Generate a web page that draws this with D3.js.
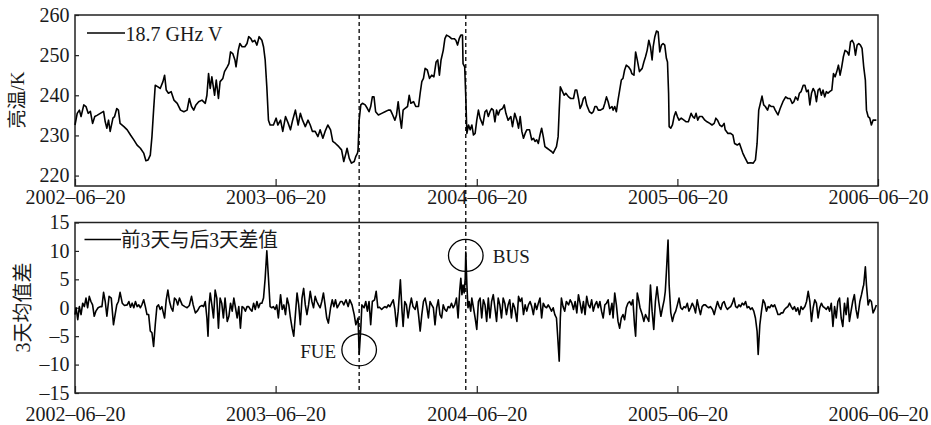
<!DOCTYPE html>
<html>
<head>
<meta charset="utf-8">
<script src="https://cdn.jsdelivr.net/npm/d3@7/dist/d3.min.js"></script>
<style>
  html, body { margin: 0; padding: 0; background: #fff; }
  svg { display: block; }
</style>
</head>
<body>
<svg id="chart" width="931" height="425"></svg>
<script>
// ---------------- DATA ----------------
const startDate = "2002-06-20";
const xTickLabels = ["2002-06-20", "2003-06-20", "2004-06-20", "2005-06-20", "2006-06-20"];
const tbTicks = [220, 230, 240, 250, 260];
const diffTicks = [-15, -10, -5, 0, 5, 10, 15];
const tbLegend = "18.7 GHz V";
const diffLegend = "前3天与后3天差值";
const tbAxisTitle = "亮温/K";
const diffAxisTitle = "3天均值差";

// days after 2002-06-20, brightness temperature (K)
const tbDays = [0,4,8,11,16,20,24,28,32,36,40,46,52,55,58,61,64,69,72,76,79,82,89,95,101,107,113,119,125,129,133,137,140,143,146,151,155,160,163,166,170,175,180,186,192,198,204,208,212,216,220,225,231,237,240,243,246,249,254,257,261,264,269,272,277,280,283,287,291,293,297,300,304,309,313,316,320,323,327,331,335,340,343,346,349,352,355,361,366,369,374,378,383,388,392,396,401,406,410,414,419,424,428,432,437,442,446,451,455,460,465,469,474,480,485,489,493,495,499,503,508,511,514,515,517,520,523,528,532,535,538,541,544,547,552,558,564,570,574,578,582,585,588,591,594,597,600,605,608,611,616,620,625,628,631,634,637,641,645,649,653,657,660,663,666,670,673,676,681,685,690,693,696,699,702,705,706,709,711,713,716,719,722,725,728,731,734,737,742,746,749,752,755,758,761,764,767,770,773,778,781,784,788,793,796,800,804,807,810,813,816,819,822,827,831,834,837,840,843,846,849,852,855,859,863,867,870,873,876,879,881,883,887,890,893,898,902,907,910,913,916,919,922,925,928,931,936,940,943,946,949,952,956,961,964,967,970,973,977,979,982,985,988,991,994,997,1000,1003,1007,1011,1013,1017,1020,1023,1027,1032,1035,1038,1041,1044,1047,1050,1052,1055,1058,1061,1064,1067,1070,1073,1076,1078,1080,1081,1084,1087,1090,1093,1096,1099,1103,1108,1112,1116,1121,1124,1127,1130,1133,1136,1141,1146,1150,1155,1159,1163,1166,1169,1173,1177,1181,1183,1188,1193,1197,1200,1205,1209,1212,1215,1218,1221,1224,1229,1234,1238,1241,1244,1247,1250,1253,1256,1260,1263,1267,1271,1274,1279,1283,1288,1293,1297,1301,1305,1308,1311,1315,1318,1321,1325,1328,1331,1334,1337,1340,1343,1346,1349,1352,1355,1358,1361,1364,1367,1370,1373,1377,1380,1383,1386,1389,1392,1395,1398,1401,1405,1408,1411,1414,1417,1420,1423,1426,1429,1432,1435,1438,1440,1443,1446,1449,1452,1455,1458];
const tbValues = [232.6,235.5,236.3,234.7,237.6,237.2,235.5,236,233,234.7,235,235.5,236,233.4,231.8,233.8,231,234.3,234.7,236.7,236.3,233,232.2,231.4,230.1,228.9,227.6,226.8,225.6,223.7,223.9,225.1,229.7,236.3,242.5,242.1,241.7,243.4,245,241.3,240.5,240.9,238.8,238,236.3,235.9,236.3,239.2,237.2,236.3,237.6,238.4,238.8,238,240,245.4,241.7,244.6,240,243.8,239.2,243.4,244.2,245.9,247.1,247.9,250.8,250.4,248.8,247.1,251.2,252.9,252.1,252.1,252.9,254.6,254.1,253.3,253.7,252.5,254.6,253.7,252.1,248.8,242.1,233.8,232.6,232.6,234.3,232.6,233.8,231,234.7,233,231.4,233.8,236.3,232.6,235.5,233.8,232.2,233.8,232.6,231,231,229.7,231.4,229.3,231,232.6,231.4,228.5,228,227.2,226.4,223.5,225.6,226.8,224.3,223.1,223.5,224.8,225.6,226.4,233.8,237.6,238,237.6,236.7,235.9,237.2,239.6,239.6,235.9,235.1,235.5,235.9,236.3,236.3,235.1,233.8,235.1,238.4,234.7,231.8,236.3,236.7,237.2,240,238,238.4,237.2,237.2,240.5,243.4,244.2,246.7,246.3,244.2,245,244.6,248.3,248.8,245,248.8,251.2,254.1,255,254.6,254.1,254.1,253.7,252.5,254.1,255,255,247.9,247.1,239.6,230.5,232.6,231.4,232.6,230.1,230.5,233.8,236.3,234.3,232.6,235.9,236.3,234.7,235.9,236.7,236.3,233.4,236.3,235.1,236.3,236.7,237.6,235.5,233.8,234.7,232.2,235.5,233.8,231.8,234.7,231,229.3,230.5,231.4,231.4,228.9,229.3,228.5,228.9,228,230.1,231.8,229.7,227.2,226.8,226.4,226,225.6,226.4,227.2,229.7,236.3,242.1,240.9,240,240.5,239.6,239.2,239.2,241.3,241.3,239.2,236.7,237.6,239.2,239.6,237.6,235.9,235.5,235.9,237.2,237.2,236.3,236.3,236.7,238,239.6,238.4,236.7,237.2,236.3,237.2,235.9,238.8,241.3,243.8,244.2,246.3,247.5,247.1,246.3,245.4,245,250.8,248.8,245.9,246.7,248.3,249.6,251.2,253.7,252.1,248.8,252.1,254.6,256,255.8,250.8,252.5,252.9,252.5,249.2,248.3,240.5,232.2,231.8,232.6,234.7,235.9,234.7,233.8,234.3,233.8,233.4,233.4,235.5,234.7,234.3,235.5,233.8,234.7,234.7,233.8,233.4,233,232.6,233,234.3,233.8,232.6,232.2,233,231.4,230.5,230.5,230.1,228,227.6,228,226.8,225.6,224.7,223.9,223.1,223.2,223.1,223.9,228,236.3,238,239.8,237.6,237.2,236.3,237.6,237.2,237.2,236.3,235.1,236.7,238.4,239.6,239.2,239.2,238,238.4,239.6,238.8,240.5,240.9,242.5,242.5,240.9,241.3,237.6,240.5,241.7,240.9,238.4,241.3,241.7,240,241.3,239.6,240.9,240.5,240.9,241.3,245.4,244.6,245.9,247.5,245,247.1,249.6,251.2,250.8,250,253.3,253.7,252.9,250,252.5,252.9,252.5,251.7,247.1,243.8,236.3,234.7,234.3,232.6,233.8,233.8,233.8];

// days after 2002-06-20, difference of 3-day means
const diffDays = [0,2,5,8,11,14,17,20,23,26,29,32,35,38,42,46,49,52,55,58,62,66,70,73,76,79,82,86,90,95,98,101,104,107,110,113,116,119,122,125,128,131,134,137,140,143,146,149,152,155,158,163,166,169,172,175,178,181,184,187,190,195,200,204,208,212,215,219,223,227,231,234,237,240,242,244,246,249,252,255,258,261,264,267,270,273,277,280,283,286,289,292,295,298,301,304,307,310,313,316,319,322,325,328,331,334,337,340,343,346,349,352,355,358,361,364,367,370,374,377,380,383,386,389,392,395,398,401,404,407,410,413,416,419,422,425,428,431,434,437,440,443,446,449,452,455,458,461,465,468,471,474,477,480,483,486,489,493,497,500,504,508,511,515,517,520,522,526,529,532,535,538,541,545,548,551,554,558,561,564,567,570,573,576,579,582,585,588,592,595,597,600,603,606,609,612,615,619,622,625,628,631,634,637,640,643,646,649,652,655,658,661,664,667,670,673,676,679,682,685,688,691,694,697,700,702,704,706,708,710,711,713,715,717,720,722,725,728,731,734,737,740,743,746,749,752,755,758,761,764,767,770,773,776,779,782,785,788,791,794,797,800,804,807,810,813,816,819,822,825,828,831,834,837,840,843,846,849,852,855,858,861,864,867,870,873,876,878,881,883,885,888,891,894,898,901,904,907,910,913,916,919,922,925,928,931,934,937,940,943,946,949,952,955,958,961,964,967,970,973,977,979,982,985,988,991,994,997,1000,1003,1006,1009,1012,1015,1018,1020,1023,1025,1028,1032,1035,1038,1041,1044,1047,1050,1053,1056,1059,1062,1066,1069,1072,1074,1076,1079,1081,1084,1087,1090,1093,1096,1099,1102,1105,1108,1111,1114,1117,1120,1123,1126,1129,1132,1135,1138,1141,1144,1147,1150,1153,1156,1160,1163,1166,1169,1172,1175,1178,1181,1184,1187,1190,1193,1196,1199,1202,1205,1208,1211,1214,1217,1220,1223,1226,1229,1232,1235,1238,1241,1243,1246,1249,1252,1255,1258,1261,1264,1267,1270,1273,1276,1279,1282,1285,1288,1291,1294,1297,1300,1303,1306,1309,1312,1315,1318,1321,1324,1328,1331,1334,1337,1340,1343,1346,1349,1352,1355,1358,1361,1364,1367,1370,1373,1376,1379,1382,1385,1388,1391,1394,1397,1400,1403,1406,1409,1412,1415,1418,1421,1424,1428,1431,1434,1435,1438,1440,1443,1446,1449,1452,1455,1458];
const diffValues = [-1.2,0,-2.1,0.2,-1.2,0.8,0.2,1.7,0,2,1.1,0.5,-1.5,-0.6,0,0.2,0.2,2.7,1.1,-1.5,2,1.7,-3,-1.2,0.5,1.1,2.7,0.8,0.4,0.5,1.1,0.1,0.8,0,1.1,0.2,0.5,0,0.6,1.4,0.2,-1.2,-1.2,-4.1,-4.4,-6.8,-3,0.2,0.5,-0.3,0.2,-1.8,1.4,3.1,1.1,0,-0.6,1.7,1.4,0.5,1.7,0.5,0.2,0,0.4,2,0.5,-0.9,-0.5,0.2,0.4,0.2,1.1,-1.8,-5,0.5,2.6,0.5,-1.8,3.1,1.7,-3.6,1.7,0.8,-1.8,1.7,-2.4,-1.5,0.8,-0.6,1.7,0,-1.8,0.2,-3.6,0.2,0,-0.6,0.2,0.2,-0.3,-0.6,0.8,-0.3,1.1,0,0.8,0.8,1.7,5.2,10,5.2,0.2,0,0.2,-0.3,0.5,-1.8,2.3,-0.3,0.5,-1.2,1.7,0.5,-1.8,-3.6,-5,-1.2,2.6,0.5,-3,1.7,3.4,0.5,-1.2,0.5,2.9,1.1,0,2,1.1,0.5,0,1.1,2.6,0.5,-1.8,-2.7,0,1.4,0.2,1.4,0,0.5,1.1,1.1,0.5,1.4,0.2,1.4,0.5,-1.2,-3,-1.8,-8.2,-3.6,0.5,0,1.1,-0.6,1.1,-3,1.1,1.4,2.9,0,0.1,-0.3,0,0.2,0,0.5,0.2,0.8,1.4,-0.3,-3.3,-0.6,4.9,-0.6,-3.3,1.1,0.5,-1.8,0.2,1.7,0.2,-0.3,1.1,-1.2,-4.1,-1.2,1.1,1.7,0.2,-1.8,1.1,0.5,0,-3,0,1.4,-1.2,-1.8,0.5,-0.3,-0.6,0.2,0,0.8,0,0.5,1.7,-1.8,3.1,5.2,2.3,4,2.6,5.2,9.8,4,0,1.1,-0.6,1.7,0,-1.8,-3.8,1.1,1.7,-1.8,1.4,0.5,-2.4,1.7,-1.8,1.1,2.3,0,-2.4,1.7,0.5,-1.8,1.7,0.8,-1.2,0.5,1.4,-1.8,0.8,0,-2.4,2,1.1,1.7,-1.2,0.5,-0.6,0.5,1.1,0.2,-1.2,0.8,-0.3,0.8,1.7,-1.8,0.8,0.2,0,0.5,0,-0.6,0,-1.2,-1.8,-4.7,-9.4,-1.8,1.7,0.2,-0.6,1.1,0.5,1.4,0.8,-0.3,1.1,-0.9,2.3,0.8,-0.9,1.1,-1.2,2,0.5,0,1.4,-0.6,0.5,1.1,0,1.1,-0.6,-1.8,0.5,0.8,1.4,-1.2,0.8,-1.8,2.6,0.5,-2.4,-3.6,-1.8,-1.2,-2.1,0,0.8,1.1,0.5,1.4,-3,-5,2.6,1.7,0,-1.2,-2.4,-1.2,-1.8,-2.4,4,-0.6,-3.8,1.1,3.7,1.1,-1.5,0,1.4,2.9,6.3,11.9,4,-0.9,-2.4,-1.2,-0.6,0.5,1.7,0,-0.3,0.2,0,0.8,-0.6,0,0.8,0.2,-0.9,1.4,0,-1.2,0.2,0.5,0.5,0.2,0,0.2,-0.3,-1.2,0,1.1,0.2,-0.3,0.8,1.1,0.2,-0.3,0,0.2,0.8,1.7,0.2,0,0.5,0.2,0.8,0.5,1.1,0,0.2,-0.3,0,-0.6,-1.8,-4.1,-8.2,-3,-0.6,1.4,0.8,-0.6,0.2,0,0.5,0.2,0.5,-0.3,-1.2,-1.2,-0.9,-0.9,-0.3,0,0.2,0.8,0.2,-0.3,0.2,-0.6,0,-1.2,0.2,-0.3,0.2,1.1,2.9,1.1,-2.4,0,1.4,0.8,-1.8,0,0.8,0.2,0,-0.3,0.2,-0.6,0.8,-3.3,0.2,-1.8,1.1,1.7,-1.8,-3.3,0.8,-1.2,1.7,-2.4,-0.6,1.1,2.3,-0.3,-1.8,1.1,2.3,3.7,4,7.2,4,0.5,1.4,1.1,-0.9,-0.3,0.5];

// events marked in the figure
const eventNames = ["FUE", "BUS"];
const eventDays = [517, 711];
const eventDiff = [-7.4, 9.2];

// ---------------- DRAW ----------------
const SERIF = "'Liberation Serif', 'Times New Roman', 'Noto Sans CJK SC', serif";
const TXT = "#1a1a1a";

const svg = d3.select("#chart");
const parse = d3.utcParse("%Y-%m-%d");
const t0 = parse(startDate);
const toDate = d => d3.utcDay.offset(t0, d);
const tickDates = xTickLabels.map(parse);
const fmtTick = d => d3.utcFormat("%Y-%m-%d")(d).replace(/-/g, "\u2013");
const fmtNum = d => (d < 0 ? "\u2013" + Math.abs(d) : String(d));

const left = 75, right = 878;
const x = d3.scaleUtc().domain([tickDates[0], tickDates[tickDates.length - 1]]).range([left, right]);

const topP = { y0: 15, y1: 186 };
const botP = { y0: 222.5, y1: 393 };
const yTop = d3.scaleLinear().domain([217.4, 260]).range([topP.y1, topP.y0]);
const yBot = d3.scaleLinear().domain([-15, 15]).range([botP.y1, botP.y0]);

const fontSize = 20;

function styleText(sel, size, fam) {
  sel.attr("font-family", fam).style("font-family", fam)
     .attr("font-size", size).style("font-size", size + "px")
     .attr("fill", TXT).style("fill", TXT);
  return sel;
}

function panel(p, y, ticks, xPad) {
  const g = svg.append("g");
  const ax = g.append("g").attr("transform", `translate(0,${p.y1})`)
    .call(d3.axisBottom(x).tickValues(tickDates).tickFormat(fmtTick)
      .tickSizeInner(-7).tickSizeOuter(0).tickPadding(xPad));
  ax.attr("font-family", SERIF);
  ax.select(".domain").remove();
  ax.selectAll("line").attr("stroke", "#222").attr("stroke-width", 1.2);
  styleText(ax.selectAll("text"), fontSize, SERIF);

  const ay = g.append("g").attr("transform", `translate(${left},0)`)
    .call(d3.axisLeft(y).tickValues(ticks).tickFormat(fmtNum)
      .tickSizeInner(-4).tickSizeOuter(0).tickPadding(5.5));
  ay.attr("font-family", SERIF);
  ay.select(".domain").remove();
  ay.selectAll("line").attr("stroke", "#222").attr("stroke-width", 1.2);
  styleText(ay.selectAll("text"), fontSize, SERIF);

  g.append("rect").attr("x", left).attr("y", p.y0)
    .attr("width", right - left).attr("height", p.y1 - p.y0)
    .attr("fill", "none").attr("stroke", "#222").attr("stroke-width", 1.5);
  return g;
}

panel(topP, yTop, tbTicks, 4);
panel(botP, yBot, diffTicks, 13.5);

// dashed event lines spanning both panels
svg.selectAll(".evline").data(eventDays).enter().append("line")
  .attr("x1", d => x(toDate(d))).attr("x2", d => x(toDate(d)))
  .attr("y1", topP.y0).attr("y2", botP.y1)
  .attr("stroke", "#000").attr("stroke-width", 1.3).attr("stroke-dasharray", "4,3");

// series lines
const tbData = tbDays.map((d, i) => [toDate(d), tbValues[i]]);
const diffData = diffDays.map((d, i) => [toDate(d), diffValues[i]]);

svg.append("path").datum(tbData)
  .attr("fill", "none").attr("stroke", "#000").attr("stroke-width", 1.6).attr("stroke-linejoin", "round")
  .attr("d", d3.line().x(d => x(d[0])).y(d => yTop(d[1])));
svg.append("path").datum(diffData)
  .attr("fill", "none").attr("stroke", "#000").attr("stroke-width", 1.6).attr("stroke-linejoin", "round")
  .attr("d", d3.line().x(d => x(d[0])).y(d => yBot(d[1])));

// event ellipses + labels
eventDays.forEach((d, i) => {
  const cx = x(toDate(d)), cy = yBot(eventDiff[i]);
  svg.append("ellipse").attr("cx", cx).attr("cy", cy).attr("rx", 17.3).attr("ry", 16)
    .attr("fill", "none").attr("stroke", "#000").attr("stroke-width", 1.3);
  const t = styleText(svg.append("text").text(eventNames[i]), 19, SERIF);
  if (i === 0) t.attr("x", cx - 23).attr("y", cy + 8).attr("text-anchor", "end");
  else t.attr("x", cx + 27).attr("y", cy + 7.5).attr("text-anchor", "start");
});

// legends
svg.append("line").attr("x1", 87).attr("x2", 125).attr("y1", 33).attr("y2", 33)
  .attr("stroke", "#000").attr("stroke-width", 1.5);
styleText(svg.append("text").attr("x", 125.5).attr("y", 40.5).text(tbLegend), fontSize, SERIF);

svg.append("line").attr("x1", 84.5).attr("x2", 121).attr("y1", 239.5).attr("y2", 239.5)
  .attr("stroke", "#000").attr("stroke-width", 1.5);
styleText(svg.append("text").attr("x", 121).attr("y", 246.5).text(diffLegend)
  .attr("textLength", 157).attr("lengthAdjust", "spacingAndGlyphs"), fontSize, SERIF);

// axis titles
styleText(svg.append("text").attr("transform", "translate(24,100) rotate(-90)")
  .attr("text-anchor", "middle").text(tbAxisTitle), 19, SERIF);
styleText(svg.append("text").attr("transform", "translate(29.5,307.5) rotate(-90)")
  .attr("text-anchor", "middle").text(diffAxisTitle), 20, SERIF);
</script>
</body>
</html>
